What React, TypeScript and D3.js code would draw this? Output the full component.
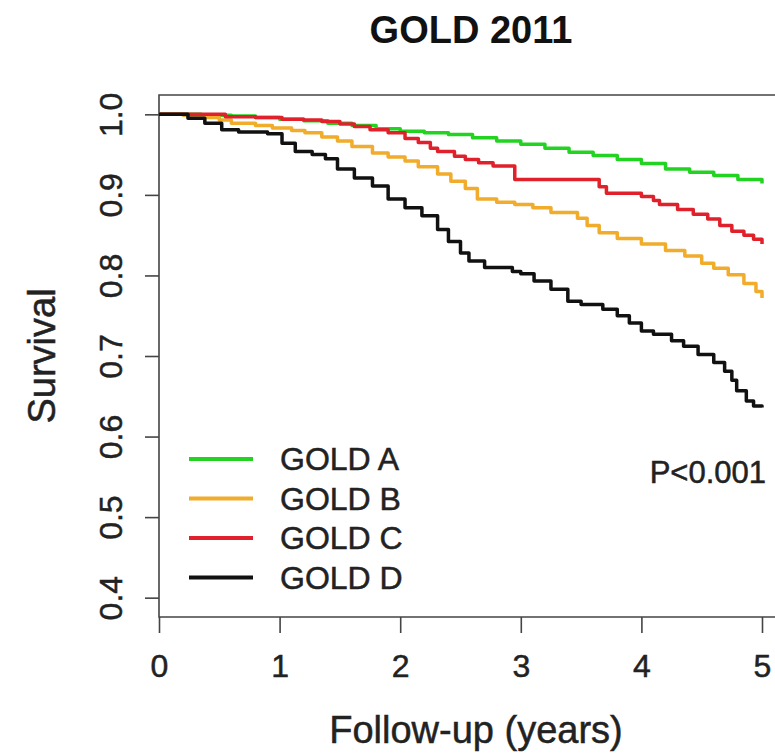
import React, { useRef, useEffect } from 'react';
import * as d3 from 'd3';

// Kaplan-Meier step points: [years, survival]
const goldA = [
  [0, 1], [0.2, 1], [0.35, 0.999], [0.6, 0.998], [0.8, 0.996], [1.0, 0.994], [1.2, 0.992],
  [1.4, 0.989], [1.6, 0.986], [1.8, 0.982], [2.0, 0.979], [2.2, 0.977], [2.4, 0.975],
  [2.6, 0.971], [2.8, 0.967], [3.0, 0.963], [3.2, 0.958], [3.4, 0.953], [3.6, 0.949],
  [3.8, 0.944], [4.0, 0.939], [4.2, 0.932], [4.4, 0.928], [4.6, 0.924], [4.8, 0.919], [5.0, 0.914],
];
const goldB = [
  [0, 1], [0.2, 0.999], [0.38, 0.996], [0.5, 0.993], [0.6, 0.989], [0.8, 0.986], [0.94, 0.983],
  [1.1, 0.98], [1.21, 0.977], [1.35, 0.972], [1.48, 0.967], [1.6, 0.96], [1.77, 0.952],
  [1.9, 0.947], [2.04, 0.942], [2.15, 0.935], [2.31, 0.926], [2.42, 0.917], [2.54, 0.908],
  [2.64, 0.895], [2.8, 0.891], [2.95, 0.888], [3.1, 0.884], [3.25, 0.878], [3.47, 0.871],
  [3.55, 0.862], [3.65, 0.853], [3.8, 0.846], [4.0, 0.839], [4.2, 0.831], [4.36, 0.824],
  [4.5, 0.815], [4.6, 0.809], [4.72, 0.801], [4.85, 0.79], [4.95, 0.78], [5.0, 0.772],
];
const goldC = [
  [0, 1], [0.5, 1], [0.55, 0.997], [0.8, 0.996], [1.02, 0.994], [1.2, 0.993], [1.35, 0.991],
  [1.5, 0.988], [1.62, 0.985], [1.75, 0.981], [1.9, 0.977], [2.04, 0.97], [2.15, 0.965],
  [2.25, 0.958], [2.31, 0.954], [2.45, 0.948], [2.54, 0.944], [2.65, 0.94], [2.77, 0.936],
  [2.95, 0.919], [3.65, 0.91], [3.71, 0.902], [4.0, 0.898], [4.1, 0.893], [4.15, 0.888],
  [4.3, 0.882], [4.43, 0.876], [4.55, 0.87], [4.65, 0.862], [4.75, 0.855], [4.85, 0.85],
  [4.93, 0.845], [5.0, 0.839],
];
const goldD = [
  [0, 1], [0.13, 1], [0.24, 0.995], [0.38, 0.989], [0.52, 0.981], [0.66, 0.978], [0.9, 0.976],
  [1.02, 0.964], [1.13, 0.954], [1.27, 0.95], [1.38, 0.945], [1.48, 0.932], [1.62, 0.921],
  [1.77, 0.911], [1.9, 0.895], [2.04, 0.884], [2.18, 0.874], [2.31, 0.857], [2.4, 0.842],
  [2.5, 0.828], [2.57, 0.818], [2.7, 0.81], [2.93, 0.805], [3.0, 0.802], [3.11, 0.793],
  [3.25, 0.783], [3.39, 0.768], [3.5, 0.764], [3.68, 0.758], [3.8, 0.75], [3.9, 0.741],
  [4.0, 0.731], [4.1, 0.727], [4.25, 0.719], [4.35, 0.712], [4.47, 0.702], [4.6, 0.692],
  [4.69, 0.681], [4.75, 0.67], [4.79, 0.657], [4.87, 0.644], [4.93, 0.638], [5.0, 0.636],
];

const groups = ['GOLD A', 'GOLD B', 'GOLD C', 'GOLD D'];
const colors = ['#22d322', '#f0ac2a', '#e0202a', '#111111'];
const xTicks = [0, 1, 2, 3, 4, 5];
const yTicks = [0.4, 0.5, 0.6, 0.7, 0.8, 0.9, 1.0];

const FONT = '"Liberation Sans", Arial, Helvetica, sans-serif';

export default function App() {
  const ref = useRef<SVGSVGElement>(null);

  useEffect(() => {
    const svg = d3.select(ref.current);
    svg.selectAll('*').remove();

    const x = d3.scaleLinear().domain([0, 5]).range([159, 762]);
    const y = d3.scaleLinear().domain([0.376, 1.024]).range([617, 95]);
    const xRight = x(5.26);

    // box (right side falls outside the picture)
    svg.append('path')
      .attr('d', `M${xRight},95 H159 V617 H${xRight}`)
      .attr('fill', 'none')
      .attr('stroke', '#444')
      .attr('stroke-width', 1.6);

    const textStyle = (sel: any, size: number) =>
      sel.attr('fill', '#222')
        .attr('stroke', '#222')
        .attr('stroke-width', 0.5)
        .style('font-size', `${size}px`)
        .style('font-family', FONT);

    const yAxis = svg.append('g')
      .attr('transform', 'translate(159,0)')
      .call(d3.axisLeft(y).tickValues(yTicks).tickSize(14).tickFormat(d3.format('.1f')));
    yAxis.select('.domain').remove();
    yAxis.selectAll('line').attr('stroke', '#444').attr('stroke-width', 1.6);
    textStyle(yAxis.selectAll('text')
      .attr('transform', 'rotate(-90)')
      .attr('x', 0)
      .attr('y', -37)
      .attr('dy', 0)
      .attr('text-anchor', 'middle'), 32);

    const xAxis = svg.append('g')
      .attr('transform', 'translate(0,617)')
      .call(d3.axisBottom(x).tickValues(xTicks).tickSize(16).tickFormat(d3.format('d')));
    xAxis.select('.domain').remove();
    xAxis.selectAll('line').attr('stroke', '#444').attr('stroke-width', 1.6);
    textStyle(xAxis.selectAll('text').attr('y', 60).attr('dy', 0), 32);

    const line = d3.line<number[]>()
      .x(d => x(d[0]))
      .y(d => y(d[1]))
      .curve(d3.curveStepAfter);

    [goldA, goldB, goldC, goldD].forEach((data, i) => {
      svg.append('path')
        .datum(data)
        .attr('fill', 'none')
        .attr('stroke', colors[i])
        .attr('stroke-width', 3.5)
        .attr('stroke-linejoin', 'round')
        .attr('d', line);
    });

    // legend
    const legend = svg.append('g');
    groups.forEach((g, i) => {
      const cy = 459 + i * 39.5;
      legend.append('line')
        .attr('x1', 189).attr('x2', 253)
        .attr('y1', cy).attr('y2', cy)
        .attr('stroke', colors[i])
        .attr('stroke-width', 4);
      textStyle(legend.append('text')
        .attr('x', 280).attr('y', cy + 11)
        .text(g), 32);
    });

    textStyle(svg.append('text')
      .attr('x', 766).attr('y', 483)
      .attr('text-anchor', 'end')
      .text('P<0.001'), 31);

    svg.append('text')
      .attr('x', 471).attr('y', 43)
      .attr('text-anchor', 'middle')
      .attr('fill', '#111')
      .style('font-size', '38px')
      .style('font-weight', 'bold')
      .style('font-family', FONT)
      .text('GOLD 2011');

    textStyle(svg.append('text')
      .attr('x', 476).attr('y', 743)
      .attr('text-anchor', 'middle')
      .text('Follow-up (years)'), 38);

    textStyle(svg.append('text')
      .attr('transform', `translate(55,${y(0.7)}) rotate(-90)`)
      .attr('text-anchor', 'middle')
      .text('Survival'), 38);
  }, []);

  return (
    <svg
      ref={ref}
      width={775}
      height={753}
      style={{ position: 'absolute', left: 0, top: 0, background: '#fff' }}
    />
  );
}
